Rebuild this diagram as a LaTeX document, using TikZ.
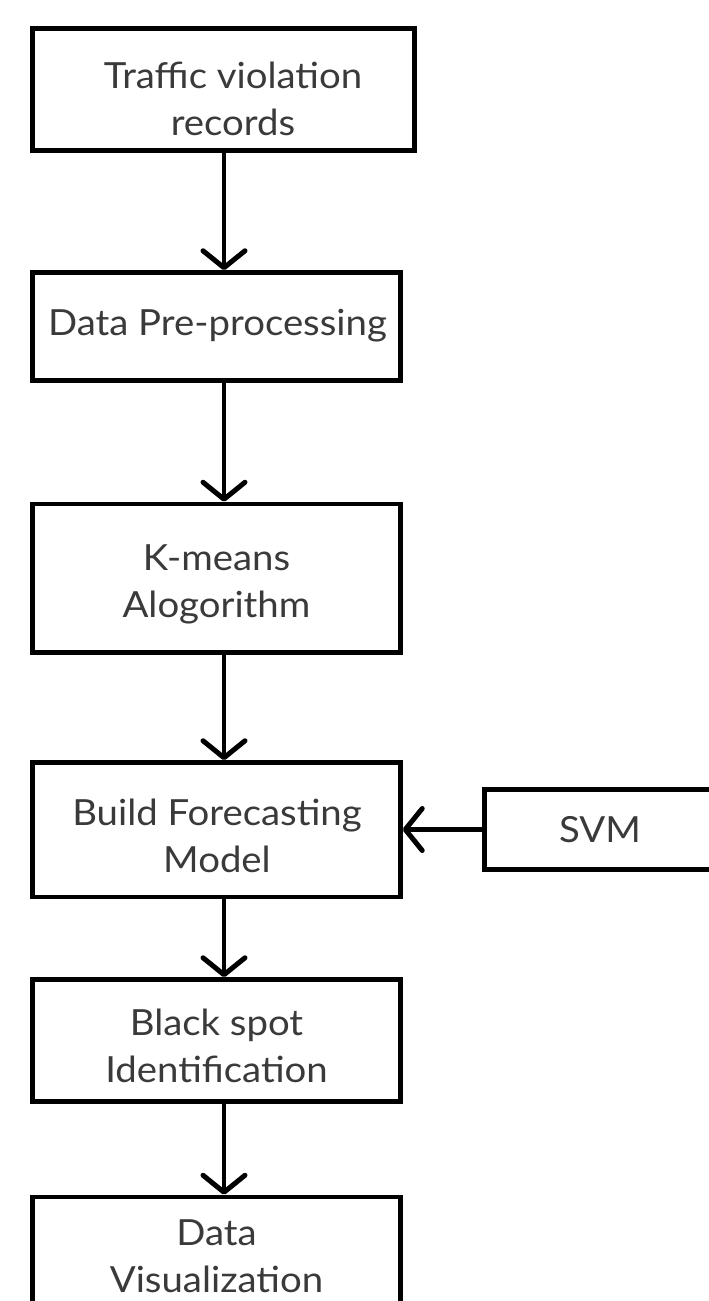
\documentclass[tikz,border=0pt]{standalone}
\usepackage{fontspec}
\setmainfont{Lato}[FakeStretch=1.065]
\usetikzlibrary{arrows.meta}
\definecolor{txt}{HTML}{3A3A3A}
\tikzset{
  stepbox/.style={draw=black, line width=4.5pt, rectangle, inner sep=0pt},
  steptext/.style={text=txt, align=center, inner sep=0pt,
    font=\fontsize{36}{47}\selectfont},
  flow/.style={draw=black, line width=4.5pt,
    -{Straight Barb[length=17pt, width=42pt, line width=5pt, round]}},
}
\begin{document}
\begin{tikzpicture}[x=1pt, y=-1pt]
  \useasboundingbox (0,0) rectangle (709,1301);
  \clip (0,0) rectangle (709,1301);
  \fill[white] (0,0) rectangle (709,1301);

  % process boxes (centre, size of the drawn outline)
  \node[stepbox, minimum width=382pt, minimum height=122pt]   (b1) at (223.5,89.5) {};
  \node[stepbox, minimum width=368pt, minimum height=108pt]   (b2) at (216.5,326.5) {};
  \node[stepbox, minimum width=368pt, minimum height=148.5pt] (b3) at (216.5,578.25) {};
  \node[stepbox, minimum width=368pt, minimum height=134.5pt] (b4) at (216.5,829.75) {};
  \node[stepbox, minimum width=368pt, minimum height=122pt]   (b5) at (216.5,1040.5) {};
  \node[stepbox, minimum width=368pt, minimum height=133pt]   (b6) at (216.5,1263.5) {};
  \node[stepbox, minimum width=276pt, minimum height=80pt]    (svm) at (622.5,829.5) {};

  % box labels
  \node[steptext] (t1) at (233,99) {Traffic violation\\records};
  \node[steptext] (t2) at (217.5,326) {Data Pre-processing};
  \node[steptext] (t3) at (216.5,584) {K-means\\Alogorithm};
  \node[steptext] (t4) at (217,836) {Build Forecasting\\Model};
  \node[steptext] (t5) at (216.5,1046) {Black spot\\Identification};
  \node[steptext] (t6) at (216.5,1256) {Data\\Visualization};
  \node[steptext] (t7) at (600,830) {SVM};

  % main flow runs down a common vertical line
  \coordinate (spine) at (224,0);
  \draw[flow] (b1.south -| spine) -- (b2.north -| spine);
  \draw[flow] (b2.south -| spine) -- (b3.north -| spine);
  \draw[flow] (b3.south -| spine) -- (b4.north -| spine);
  \draw[flow] (b4.south -| spine) -- (b5.north -| spine);
  \draw[flow] (b5.south -| spine) -- (b6.north -| spine);

  % classifier feeds the forecasting model
  \draw[flow] (svm.west) -- (svm.west -| b4.east);
\end{tikzpicture}
\end{document}
